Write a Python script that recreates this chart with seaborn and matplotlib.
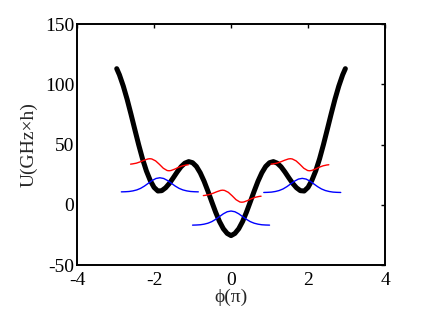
import numpy as np
import pandas as pd
import seaborn as sns
import matplotlib
matplotlib.use("Agg")
import matplotlib.pyplot as plt

# potential U(phi) for phi >= 0 (curve is symmetric)
phi_half = [0.0, 0.1, 0.2, 0.3, 0.4, 0.5, 0.6, 0.7, 0.8, 0.9, 1.0, 1.1, 1.2, 1.3, 1.4,
            1.5, 1.6, 1.7, 1.8, 1.9, 2.0, 2.1, 2.2, 2.3, 2.4, 2.5, 2.6, 2.7, 2.8, 2.9, 2.97]
U_half = [-25.5, -23.7, -19.8, -13.8, -6.1, 2.5, 11.3, 19.6, 26.6, 31.9, 35.0, 35.9, 34.6,
          31.6, 27.3, 22.5, 17.9, 14.2, 11.8, 11.5, 14.5, 20.3, 28.2, 38.2, 49.9, 62.5,
          75.3, 87.6, 98.6, 107.9, 113.0]

# ground state (blue) wavefunction profile, offset from well centre
blue_dx = [-1.0, -0.9, -0.8, -0.7, -0.6, -0.5, -0.4, -0.3, -0.2, -0.1, 0.0,
           0.1, 0.2, 0.3, 0.4, 0.5, 0.6, 0.7, 0.8, 0.9, 1.0]
blue_dy = [0.0, 0.1, 0.3, 0.8, 1.6, 2.9, 4.8, 7.1, 9.4, 11.1, 11.7,
           11.1, 9.4, 7.1, 4.8, 2.9, 1.6, 0.8, 0.3, 0.1, 0.0]
blue_centers = [-1.85, 0.0, 1.85]
blue_levels = [10.8, -16.8, 10.3]

# first excited state (red) wavefunction profile
red_dx = [-0.75, -0.7, -0.6, -0.5, -0.4, -0.3, -0.25, -0.2, -0.1, 0.0,
          0.1, 0.2, 0.25, 0.3, 0.4, 0.5, 0.6, 0.7, 0.75]
red_dy = [0.2, 0.4, 1.0, 2.1, 3.4, 4.5, 4.7, 4.5, 2.9, 0.0,
          -3.2, -5.1, -5.3, -5.1, -3.9, -2.4, -1.2, -0.5, -0.3]
red_centers = [-1.86, 0.03, 1.79]
red_levels = [33.6, 7.5, 33.6]

phi = np.concatenate([-np.array(phi_half[::-1]), np.array(phi_half[1:])])
U = np.concatenate([np.array(U_half[::-1]), np.array(U_half[1:])])
pot = pd.DataFrame({"phi": phi, "U": U})

sns.set_style("white")
plt.rcParams["font.family"] = ["Liberation Serif", "DejaVu Serif"]
plt.rcParams["axes.unicode_minus"] = False

fig, ax = plt.subplots(figsize=(4.38, 3.21), dpi=100)
fig.subplots_adjust(left=0.176, right=0.879, top=0.925, bottom=0.174)

sns.lineplot(data=pot, x="phi", y="U", color="black", linewidth=3.6,
             estimator=None, sort=False, ax=ax, zorder=2)

# wavefunctions drawn over the potential
for c, lev in zip(red_centers, red_levels):
    d = pd.DataFrame({"x": np.array(red_dx) + c, "y": np.array(red_dy) + lev})
    sns.lineplot(data=d, x="x", y="y", color="red", linewidth=1.0,
                 estimator=None, sort=False, ax=ax, zorder=3)

for c, lev in zip(blue_centers, blue_levels):
    d = pd.DataFrame({"x": np.array(blue_dx) + c, "y": np.array(blue_dy) + lev})
    sns.lineplot(data=d, x="x", y="y", color="blue", linewidth=1.0,
                 estimator=None, sort=False, ax=ax, zorder=3)

ax.set_xlim(-4, 4)
ax.set_ylim(-50, 150)
ax.set_xticks([-4, -2, 0, 2, 4])
ax.set_yticks([-50, 0, 50, 100, 150])
ax.tick_params(direction="in", length=3, width=1, top=True, right=True,
               labelsize=14, colors="black")
ax.tick_params(axis="x", pad=5)
ax.tick_params(axis="y", pad=2)
for s in ax.spines.values():
    s.set_linewidth(1.4)
    s.set_color("black")

ax.set_xlabel("\u03d5(\u03c0)", fontsize=14, labelpad=0)
ax.set_ylabel("U(GHz\u00d7h)", fontsize=14, labelpad=5)

fig.savefig("out.png", dpi=100)
